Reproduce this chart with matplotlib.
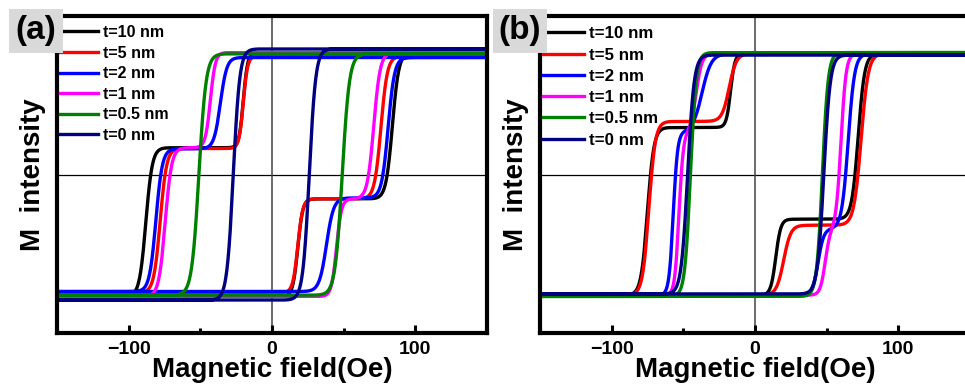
import numpy as np
import matplotlib
matplotlib.use('Agg')
import matplotlib.pyplot as plt
from matplotlib.patches import Rectangle
from matplotlib.ticker import MultipleLocator

plt.rcParams['font.family'] = 'Liberation Sans'
plt.rcParams['font.weight'] = 'bold'

# Curves: spacer thickness t
labels = ['t=10 nm', 't=5 nm', 't=2 nm', 't=1 nm', 't=0.5 nm', 't=0 nm']
colors = ['black', 'red', 'blue', 'magenta', '#008000', '#000080']

# (a) switching fields (Oe), step widths (Oe) and plateau levels (M/Ms)
a_desc_c1 = [-20, -20, -36, -43, -51, -27]
a_desc_w1 = [3.0, 3.0, 4.5, 3.5, 5.0, 4.5]
a_desc_p = [0.22, 0.22, 0.22, 0.22, 0.0, 0.0]
a_desc_c2 = [-88, -78, -81, -74.5, -51, -27]
a_desc_w2 = [4.5, 4.5, 4.5, 4.5, 5.0, 4.5]
a_asc_d1 = [18, 18, 38, 45, 49, 26]
a_asc_w1 = [3.5, 3.5, 5.0, 3.5, 5.0, 4.5]
a_asc_q = [-0.2, -0.205, -0.2, -0.2, 0.0, 0.0]
a_asc_d2 = [84, 76, 81, 71, 49, 26]
a_asc_w2 = [4.5, 4.5, 4.5, 4.5, 5.0, 4.5]
a_ms = [1.0, 0.97, 0.96, 1.0, 0.99, 1.03]

# (b)
b_desc_c1 = [-17, -18, -37, -41, -45, -47]
b_desc_w1 = [3.0, 5.0, 6.5, 4.0, 4.0, 4.5]
b_desc_p = [0.39, 0.44, 0.35, 0.35, 0.0, 0.0]
b_desc_c2 = [-75, -74, -57, -53, -45, -47]
b_desc_w2 = [4.5, 4.5, 3.0, 3.0, 4.0, 4.5]
b_asc_d1 = [14.5, 20, 44, 49, 47, 48]
b_asc_w1 = [3.5, 5.0, 4.0, 3.5, 4.0, 4.5]
b_asc_q = [-0.37, -0.42, -0.45, -0.45, 0.0, 0.0]
b_asc_d2 = [72, 74, 65, 60, 47, 48]
b_asc_w2 = [4.5, 5.0, 4.5, 3.5, 4.0, 4.5]
b_ms = [0.99, 0.99, 0.99, 0.99, 1.0, 0.98]


def step(x):
    return 0.5 * (1 + np.tanh(x))


def loop(c1, w1, p, c2, w2, d1, v1, q, d2, v2, ms):
    h = np.linspace(-150, 150, 1500)
    desc = -1 + (1 + p) * step((h - c2) / w2) + (1 - p) * step((h - c1) / w1)
    asc = -1 + (1 + q) * step((h - d1) / v1) + (1 - q) * step((h - d2) / v2)
    # sweep down from +150 Oe then back up
    return np.r_[h[::-1], h], ms * np.r_[desc[::-1], asc]


def draw(ax, params, leg_size, leg_space, leg_top):
    ax.axhline(0, color='black', lw=0.9, zorder=1)
    ax.axvline(0, color='#444444', lw=1.1, zorder=1)
    for i in range(len(labels)):
        h, m = loop(*[p[i] for p in params])
        ax.plot(h, m, color=colors[i], lw=2.4, label=labels[i], zorder=2)
    ax.set_xlim(-150, 150)
    ax.set_ylim(-1.3, 1.3)
    ax.set_yticks([])
    ax.xaxis.set_major_locator(MultipleLocator(100))
    ax.xaxis.set_minor_locator(MultipleLocator(50))
    ax.tick_params(axis='x', which='major', direction='in', length=6, width=2.2,
                   labelsize=14, pad=6)
    ax.tick_params(axis='x', which='minor', direction='in', length=3.5, width=2.2)
    for s in ax.spines.values():
        s.set_linewidth(3)
    ax.set_xlabel('Magnetic field(Oe)', fontsize=20, fontweight='bold', labelpad=-1)
    ax.set_ylabel('M  intensity', fontsize=20, fontweight='bold', labelpad=8)
    ax.legend(loc='upper left', bbox_to_anchor=(-0.02, leg_top), frameon=False,
              prop={'size': leg_size, 'weight': 'bold'}, handlelength=2.4,
              handletextpad=0.3, labelspacing=leg_space, borderaxespad=0.3)


fig = plt.figure(figsize=(9.65, 3.9), dpi=100)
ax_a = fig.add_axes([57 / 965, 57 / 390, 430 / 965, 317 / 390])
ax_b = fig.add_axes([540 / 965, 57 / 390, 430 / 965, 317 / 390])

draw(ax_a, [a_desc_c1, a_desc_w1, a_desc_p, a_desc_c2, a_desc_w2,
            a_asc_d1, a_asc_w1, a_asc_q, a_asc_d2, a_asc_w2, a_ms], 11.5, 0.35, 1.007)
draw(ax_b, [b_desc_c1, b_desc_w1, b_desc_p, b_desc_c2, b_desc_w2,
            b_asc_d1, b_asc_w1, b_asc_q, b_asc_d2, b_asc_w2, b_ms], 12.2, 0.37, 1.005)

# grey tags in the top-left corners
for x0, tag in [(9, '(a)'), (493, '(b)')]:
    fig.add_artist(Rectangle((x0 / 965, 1 - 53 / 390), 54 / 965, 44 / 390,
                             transform=fig.transFigure, facecolor='#d9d9d9',
                             edgecolor='none', zorder=10))
    fig.text((x0 + 27) / 965, 1 - 31 / 390, tag, fontsize=24, fontweight='bold',
             ha='center', va='center', zorder=11)

fig.savefig('out.png', dpi=100)
